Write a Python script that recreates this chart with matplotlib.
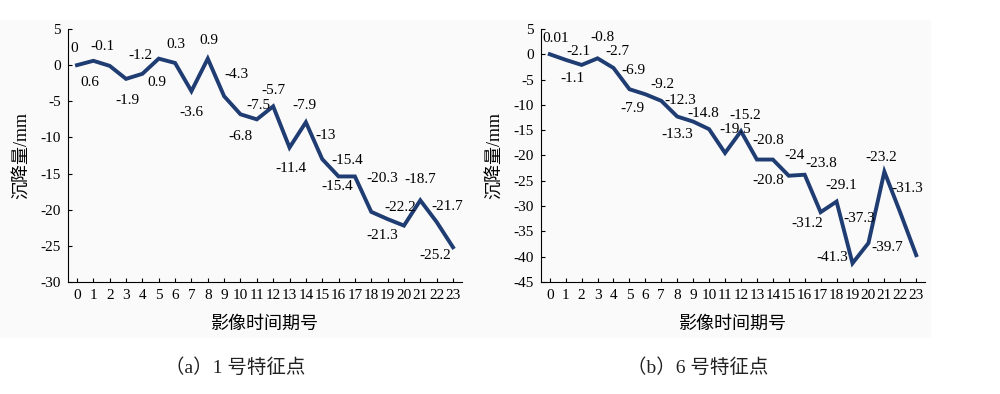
import matplotlib
matplotlib.use("Agg")
import matplotlib.pyplot as plt
from matplotlib.patches import Rectangle

plt.rcParams['font.family'] = ['Liberation Serif', 'Noto Sans CJK SC']
plt.rcParams['axes.unicode_minus'] = False

# 影像时间期号
periods = list(range(24))

# (a) 1 号特征点
subs_1 = [0, 0.6, -0.1, -1.9, -1.2, 0.9, 0.3, -3.6, 0.9, -4.3, -6.8, -7.5,
          -5.7, -11.4, -7.9, -13, -15.4, -15.4, -20.3, -21.3, -22.2, -18.7,
          -21.7, -25.2]
yticks_1 = [5, 0, -5, -10, -15, -20, -25, -30]

# (b) 6 号特征点
subs_6 = [0.01, -1.1, -2.1, -0.8, -2.7, -6.9, -7.9, -9.2, -12.3, -13.3,
          -14.8, -19.5, -15.2, -20.8, -20.8, -24, -23.8, -31.2, -29.1,
          -41.3, -37.3, -23.2, -31.3, -39.7]
yticks_6 = [5, 0, -5, -10, -15, -20, -25, -30, -35, -40, -45]

# label offsets in pixels (dx, dy)
offs_1 = [(-3, 17), (-3, -22), (-7, 19), (1, -22), (-2, 18), (-2, -24),
          (1, 18), (0, -21), (1, 18), (12, 22), (0, -22), (2, 14),
          (0, 16), (1, -21), (-1, 17), (3, 24), (9, 16), (-18, -10),
          (11, 33), (-5, -16), (-4, 18), (0, 21), (11, 15), (-18, -8)]
offs_6 = [(6, 16), (7, -19), (-3, 13), (5, 21), (4, 16), (4, 19),
          (-13, -14), (1, 16), (3, 16), (-16, -13), (-6, 16), (10, 23),
          (4, 16), (11, 19), (-5, -21), (6, 20), (17, 11), (-13, -11),
          (5, 16), (-20, 6), (-9, 25), (-3, 14), (7, 24), (-29, 8)]

line_color = '#1f3d72'

fig = plt.figure(figsize=(10, 3.94), dpi=100)
fig.patches.append(Rectangle((0, 1 - 337 / 394), 0.5, (337 - 20) / 394,
                             transform=fig.transFigure, color='#fafafa', zorder=-10))
fig.patches.append(Rectangle((0.5, 1 - 337 / 394), 0.43, (337 - 20) / 394,
                             transform=fig.transFigure, color='#fafafa', zorder=-10))

ax1 = fig.add_axes([0.068, 0.2843, 0.394, 0.6421])
ax2 = fig.add_axes([0.541, 0.2843, 0.384, 0.6421])


def draw(ax, vals, offs, yticks, ylo):
    ax.set_facecolor('none')
    ax.plot(periods, vals, color=line_color, lw=2.8, solid_joinstyle='miter')
    for x, v, (dx, dy) in zip(periods, vals, offs):
        ax.annotate(f"{v:g}", (x, v), xytext=(dx, dy), textcoords='offset pixels',
                    ha='center', va='center', fontsize=11)
    ax.set_xlim(-0.55, 23.55)
    ax.set_ylim(ylo, 5)
    ax.set_xticks(periods)
    ax.set_yticks(yticks)
    ax.spines['top'].set_visible(False)
    ax.spines['right'].set_visible(False)
    ax.tick_params(direction='in', length=3, labelsize=11, pad=5)
    ax.set_xlabel('影像时间期号', fontsize=13, labelpad=10)
    ax.set_ylabel('沉降量/mm', fontsize=13, labelpad=8)


draw(ax1, subs_1, offs_1, yticks_1, -30)
draw(ax2, subs_6, offs_6, yticks_6, -45)

fig.text(0.235, 1 - 368 / 394, '（a）1 号特征点', ha='center', va='center',
         fontsize=14, color='#222222')
fig.text(0.698, 1 - 368 / 394, '（b）6 号特征点', ha='center', va='center',
         fontsize=14, color='#222222')

fig.savefig('out.png', dpi=100)
